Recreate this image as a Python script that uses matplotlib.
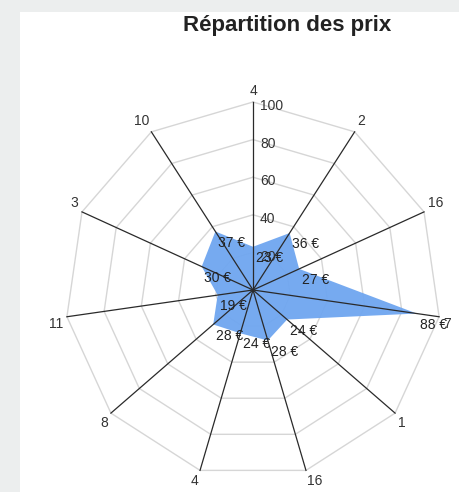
import numpy as np
import matplotlib
matplotlib.use("Agg")
import matplotlib.pyplot as plt

# ---- data ----
categories = ["4", "2", "16", "7", "1", "16", "4", "8", "11", "3", "10"]
prices = [23, 36, 27, 88, 24, 28, 24, 28, 19, 30, 37]
ring_values = [20, 40, 60, 80, 100]
title = "Répartition des prix"

plt.rcParams['font.family'] = ['Liberation Sans', 'DejaVu Sans']

W, H = 459, 492
fig = plt.figure(figsize=(W / 100, H / 100), dpi=100, facecolor="#eceeee")

# white panel (left 20px and top 12px are grey)
left_px, top_px = 20, 12
ax = fig.add_axes([left_px / W, 0, (W - left_px) / W, (H - top_px) / H])
ax.set_facecolor("white")
for s in ax.spines.values():
    s.set_visible(False)
ax.set_xticks([])
ax.set_yticks([])

# center at (253, 290) px, 100 units = 188 px
scale = 1.88
cx, cy = 253, 290
ax.set_xlim((left_px - cx) / scale, (W - cx) / scale)
ax.set_ylim((cy - H) / scale, (cy - top_px) / scale)
ax.set_aspect("equal")

n = len(categories)
angles = np.pi / 2 - np.arange(n) * 2 * np.pi / n
cosa, sina = np.cos(angles), np.sin(angles)
rmax = ring_values[-1]

# spider web rings
for r in ring_values:
    xs = np.append(r * cosa, r * cosa[0])
    ys = np.append(r * sina, r * sina[0])
    ax.plot(xs, ys, color="#d6d6d6", lw=1.0, zorder=1)

# data polygon
vals = np.array(prices, dtype=float)
px, py = vals * cosa, vals * sina
ax.fill(px, py, color="#6fa6f0", lw=0, zorder=2, alpha=0.95)

# spokes
for c, s in zip(cosa, sina):
    ax.plot([0, rmax * c], [0, rmax * s], color="#2a2a2a", lw=0.9, zorder=3)

# axis category labels
for lab, c, s in zip(categories, cosa, sina):
    if c > 1e-6:
        ha = "left"
    elif c < -1e-6:
        ha = "right"
    else:
        ha = "center"
    va = "bottom" if s > 0 else "top"
    ax.annotate(lab, (rmax * c, rmax * s), xytext=(3 * c, 3 * s), textcoords="offset points",
                ha=ha, va=va, fontsize=10, color="#333333", zorder=5)

# ring value labels along top spoke
for r in ring_values:
    ax.annotate(str(r), (0, r), xytext=(5, -3), textcoords="offset points",
                ha="left", va="center", fontsize=10, color="#333333", zorder=5)

# data labels
for v, x, y in zip(prices, px, py):
    ax.annotate(f"{v} €", (x, y), xytext=(2, -3), textcoords="offset points",
                ha="left", va="top", fontsize=10, color="#222222", zorder=6)

fig.text(287 / W, 1 - 25 / H, title, ha="center", va="center",
         fontsize=16, fontweight="bold", color="#222222")

fig.savefig("out.png", dpi=100, facecolor=fig.get_facecolor())
